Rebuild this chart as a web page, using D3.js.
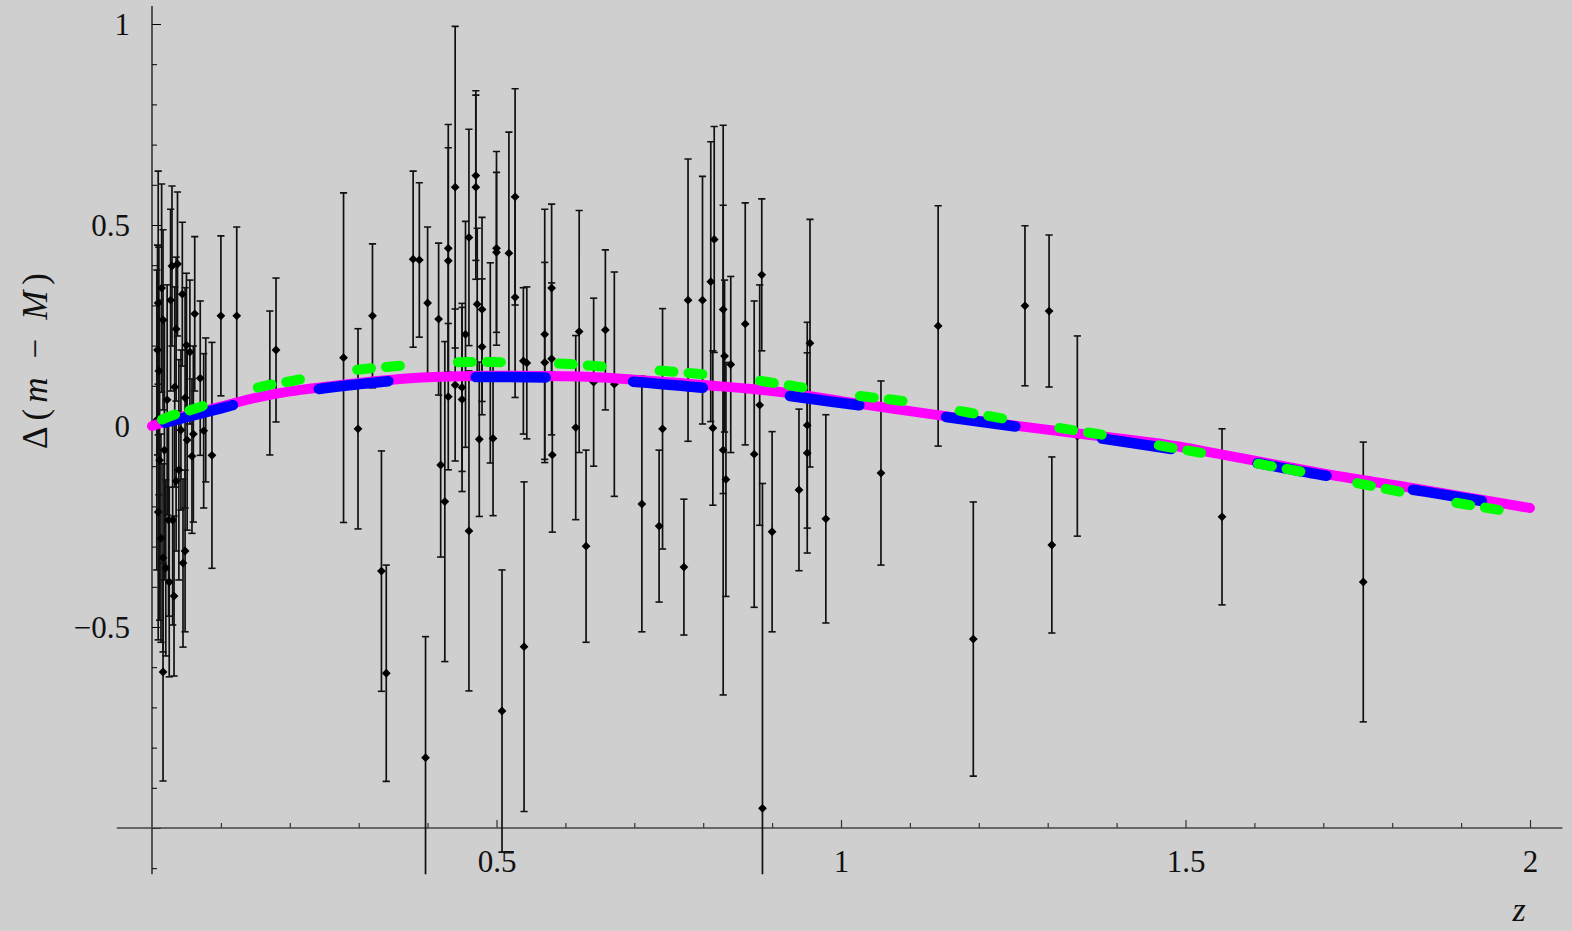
<!DOCTYPE html>
<html><head><meta charset="utf-8">
<script src="https://cdn.jsdelivr.net/npm/d3@7"></script>
<style>html,body{margin:0;padding:0;background:#cfcfcf;} svg{display:block}
.serif{font-family:"Liberation Serif","Tinos","Times New Roman","DejaVu Serif",serif;}
</style>
</head><body>
<svg id="c" width="1572" height="931"></svg>
<script>
// ---- data ----
const pointZ = [0.009,0.010,0.009,0.013,0.014,0.016,0.016,0.016,0.020,0.025,0.027,0.029,0.032,0.033,0.035,0.035,0.037,0.042,0.044,0.045,0.048,0.048,0.050,0.051,0.055,0.058,0.060,0.062,0.070,0.075,0.078,0.087,0.100,0.123,0.007,0.018,0.022,0.030,0.039,0.008,0.011,0.024,
 0.180,0.171,0.278,0.299,0.320,0.333,0.340,0.379,0.388,0.400,0.397,0.416,0.419,0.425,0.430,0.430,0.430,0.440,0.440,0.450,0.450,0.455,0.460,0.460,0.470,0.470,0.472,0.475,0.479,0.479,0.491,0.495,0.500,0.500,0.508,0.518,0.527,0.527,0.539,0.540,0.544,0.570,0.570,0.580,0.580,0.581,0.615,0.620,0.630,0.641,0.658,0.671,0.711,0.736,0.741,0.772,0.778,0.799,0.811,0.816,0.814,0.829,0.829,0.833,0.831,0.840,0.861,0.874,0.882,0.885,0.886,0.900,0.939,0.951,0.951,0.955,0.978,1.058,1.141,1.192,1.267,1.302,1.306,1.343,1.553,1.758];
const pointDelta = [0.306,0.137,-0.214,-0.279,0.343,0.264,-0.328,-0.612,-0.353,-0.388,0.313,0.398,-0.423,0.097,0.241,-0.137,0.403,-0.010,0.328,-0.341,0.070,-0.311,0.201,-0.035,0.184,-0.075,-0.020,0.279,0.119,-0.012,0.040,-0.073,0.274,0.274,0.015,-0.060,0.065,-0.234,-0.109,0.189,-0.085,-0.234,
 0.189,0.107,0.170,-0.007,0.274,-0.361,-0.615,0.415,0.413,0.306,-0.825,0.266,-0.097,-0.188,0.442,0.411,0.073,0.594,0.102,0.096,0.066,0.228,0.469,-0.261,0.623,0.594,0.303,-0.033,0.290,0.197,0.157,-0.031,0.442,0.432,-0.709,0.430,0.570,0.320,0.162,-0.549,0.157,0.228,0.158,0.343,0.167,-0.072,-0.004,0.235,-0.299,0.109,0.239,0.104,-0.194,-0.249,-0.007,-0.351,0.313,0.313,0.359,0.464,-0.005,0.290,-0.060,-0.133,0.174,0.153,0.254,-0.070,0.052,0.376,-0.951,-0.263,-0.159,0.002,-0.067,0.206,-0.231,-0.117,0.249,-0.530,0.299,0.286,-0.296,-0.025,-0.226,-0.388];
const pointErr = [0.328,0.308,0.318,0.259,0.259,0.224,0.234,0.271,0.219,0.236,0.226,0.199,0.199,0.249,0.179,0.174,0.179,0.199,0.179,0.209,0.274,0.201,0.179,0.224,0.179,0.192,0.219,0.192,0.192,0.192,0.179,0.281,0.199,0.221,0.373,0.323,0.286,0.261,0.274,0.261,0.398,0.239,
 0.179,0.179,0.410,0.249,0.179,0.299,0.269,0.219,0.192,0.189,0.301,0.189,0.229,0.398,0.308,0.281,0.182,0.400,0.189,0.209,0.229,0.281,0.269,0.398,0.211,0.229,0.189,0.192,0.229,0.169,0.249,0.192,0.241,0.199,0.351,0.301,0.269,0.249,0.182,0.410,0.189,0.311,0.249,0.209,0.189,0.192,0.229,0.301,0.239,0.209,0.199,0.279,0.318,0.189,0.299,0.169,0.351,0.308,0.348,0.281,0.192,0.458,0.609,0.291,0.189,0.219,0.301,0.381,0.299,0.189,0.808,0.249,0.201,0.256,0.249,0.308,0.259,0.229,0.299,0.341,0.199,0.189,0.219,0.249,0.219,0.348];

const magentaZ = [0,0.05,0.1,0.15,0.2,0.25,0.3,0.36,0.43,0.5,0.62,0.7,0.8,0.9,0.94,1.0,1.1,1.22,1.35,1.49,1.55,1.73,1.85,2.0];
const magentaD = [0,0.026,0.048,0.07,0.086,0.097,0.107,0.117,0.123,0.125,0.123,0.115,0.102,0.087,0.078,0.062,0.037,0.008,-0.02,-0.051,-0.07,-0.127,-0.16,-0.204];
const blueZ = [0.019,0.05,0.1,0.15,0.2,0.25,0.3,0.36,0.43,0.5,0.62,0.708,0.8,0.9,0.984,1.1,1.213,1.35,1.444,1.55,1.705,1.85,1.949];
const blueD = [0.008,0.022,0.044,0.066,0.082,0.094,0.104,0.114,0.12,0.122,0.118,0.109,0.095,0.08,0.061,0.035,0.008,-0.024,-0.048,-0.076,-0.124,-0.164,-0.192];
const greenZ = [0.0145,0.023,0.062,0.11,0.164,0.203,0.25,0.308,0.347,0.4,0.454,0.496,0.55,0.607,0.645,0.7,0.749,0.791,0.896,0.936,1.04,1.081,1.187,1.224,1.332,1.373,1.477,1.517,1.622,1.663,1.758,1.798,1.903,1.96];
const greenD = [0.016,0.022,0.043,0.072,0.100,0.112,0.128,0.142,0.148,0.155,0.159,0.159,0.157,0.154,0.149,0.143,0.136,0.13,0.109,0.098,0.072,0.064,0.033,0.022,-0.009,-0.02,-0.053,-0.065,-0.099,-0.112,-0.145,-0.159,-0.194,-0.21];

const xMajor = [0.5,1,1.5,2];
const xLabels = ["0.5","1","1.5","2"];
const yMajor = [-1,-0.5,0,0.5,1];
const yLabelVals = [-0.5,0,0.5,1];
const yLabels = ["\u22120.5","0","0.5","1"];

// ---- drawing ----
const svg = d3.select("#c");
const W = 1572, H = 931;
const x = d3.scaleLinear().domain([0,2]).range([152,1530]);
const y = d3.scaleLinear().domain([-1,1]).range([828,24]);
const yMin = -1.115, yMax = 1.045, xMin = -0.051, xMax = 2.047;
const serif = '"Liberation Serif","Tinos","Times New Roman","DejaVu Serif",serif';

svg.append("rect").attr("width",W).attr("height",H).attr("fill","#cfcfcf");

const defs = svg.append("defs");
defs.append("clipPath").attr("id","clip").append("rect")
  .attr("x",0).attr("y",y(yMax)).attr("width",W).attr("height",y(yMin)-y(yMax));

// y axis
const yMinor = d3.range(-11,11).map(i=>i/10).filter(v=>!yMajor.some(m=>Math.abs(m-v)<1e-9));
const gy = svg.append("g").attr("transform",`translate(${x(0)},0)`);
gy.call(d3.axisLeft(y).tickValues(yMinor).tickSize(-5).tickFormat(""));
gy.append("g").call(d3.axisLeft(y).tickValues(yMajor).tickSize(-9).tickFormat(""));
gy.selectAll(".domain").remove();
gy.selectAll("line").attr("stroke","#000").attr("stroke-width",1);
gy.append("line").attr("x1",0).attr("x2",0).attr("y1",y(yMin)).attr("y2",y(yMax)).attr("stroke","#000").attr("stroke-width",1.2);
const gyl = svg.append("g").attr("transform",`translate(${x(0)},0)`);
gyl.call(d3.axisLeft(y).tickValues(yLabelVals).tickSize(0).tickPadding(22).tickFormat((d,i)=>yLabels[i]));
gyl.attr("font-family",null).attr("font-size",null);
gyl.selectAll(".domain").remove();
gyl.selectAll("text").attr("class","serif").style("font-family",serif).style("font-size","31px").attr("fill","#111").attr("dy","0.34em");

// x axis
const xMinor = d3.range(1,21).map(i=>i/10).filter(v=>!xMajor.some(m=>Math.abs(m-v)<1e-9));
const gx = svg.append("g").attr("transform",`translate(0,${y(-1)})`);
gx.call(d3.axisBottom(x).tickValues(xMinor).tickSize(-5).tickFormat(""));
const gxm = gx.append("g").call(d3.axisBottom(x).tickValues(xMajor).tickSize(-8).tickPadding(22).tickFormat((d,i)=>xLabels[i]));
gxm.attr("font-family",null).attr("font-size",null);
gx.selectAll(".domain").remove();
gx.selectAll("line").attr("stroke","#333").attr("stroke-width",1.2);
gx.selectAll("text").attr("class","serif").style("font-family",serif).style("font-size","31px").attr("fill","#111");
gx.append("line").attr("x1",x(xMin)).attr("x2",x(xMax)).attr("y1",0).attr("y2",0).attr("stroke","#444").attr("stroke-width",1.6);

// error bars
const pts = pointZ.map((z,i)=>({z, d:pointDelta[i], e:pointErr[i]}));
const gp = svg.append("g").attr("clip-path","url(#clip)");
gp.selectAll("line.bar").data(pts).join("line").attr("class","bar")
  .attr("x1",p=>x(p.z)).attr("x2",p=>x(p.z))
  .attr("y1",p=>y(p.d+p.e)).attr("y2",p=>y(p.d-p.e))
  .attr("stroke","#111").attr("stroke-width",1.7);
const capW = 3.6;
["top","bot"].forEach(k=>{
  gp.selectAll("line.cap"+k).data(pts.filter(p=>k==="top"||p.d-p.e>yMin)).join("line").attr("class","cap"+k)
    .attr("x1",p=>x(p.z)-capW).attr("x2",p=>x(p.z)+capW)
    .attr("y1",p=>y(k==="top"?p.d+p.e:p.d-p.e)).attr("y2",p=>y(k==="top"?p.d+p.e:p.d-p.e))
    .attr("stroke","#111").attr("stroke-width",1.6);
});
gp.selectAll("path.pt").data(pts).join("path").attr("class","pt")
  .attr("d",p=>{const cx=x(p.z), cy=y(p.d), r=4.4; return `M${cx},${cy-r}L${cx+r},${cy}L${cx},${cy+r}L${cx-r},${cy}Z`;})
  .attr("fill","#000");

// curves
const line = d3.line().x(d=>x(d[0])).y(d=>y(d[1])).curve(d3.curveMonotoneX);
const mag = magentaZ.map((z,i)=>[z,magentaD[i]]);
const blu = blueZ.map((z,i)=>[z,blueD[i]]);
const grn = greenZ.map((z,i)=>[z,greenD[i]]);
svg.append("path").attr("d",line(mag)).attr("fill","none").attr("stroke","#ff00ff").attr("stroke-width",10).attr("stroke-linecap","round");
svg.append("path").attr("d",line(blu)).attr("fill","none").attr("stroke","#0000ff").attr("stroke-width",10.5).attr("stroke-linecap","round").attr("stroke-dasharray","70,87.5");
svg.append("path").attr("d",line(grn)).attr("fill","none").attr("stroke","#00ff00").attr("stroke-width",10).attr("stroke-linecap","round").attr("stroke-dasharray","14,15,14,58");

// axis titles
svg.append("text").attr("x",1519).attr("y",921).attr("text-anchor","middle").attr("class","serif")
  .style("font-family",serif).style("font-size","34px").style("font-style","italic").attr("fill","#111").text("z");
const yt = svg.append("text").attr("transform","translate(47,358) rotate(-90)").attr("text-anchor","middle").attr("class","serif")
  .style("font-family",serif).style("font-size","35px").style("letter-spacing","6px").attr("fill","#111");
yt.append("tspan").text("\u0394(");
yt.append("tspan").style("font-style","italic").text("m");
yt.append("tspan").text("\u2009\u2212\u2009");
yt.append("tspan").style("font-style","italic").text("M");
yt.append("tspan").text(")");
</script>
</body></html>
